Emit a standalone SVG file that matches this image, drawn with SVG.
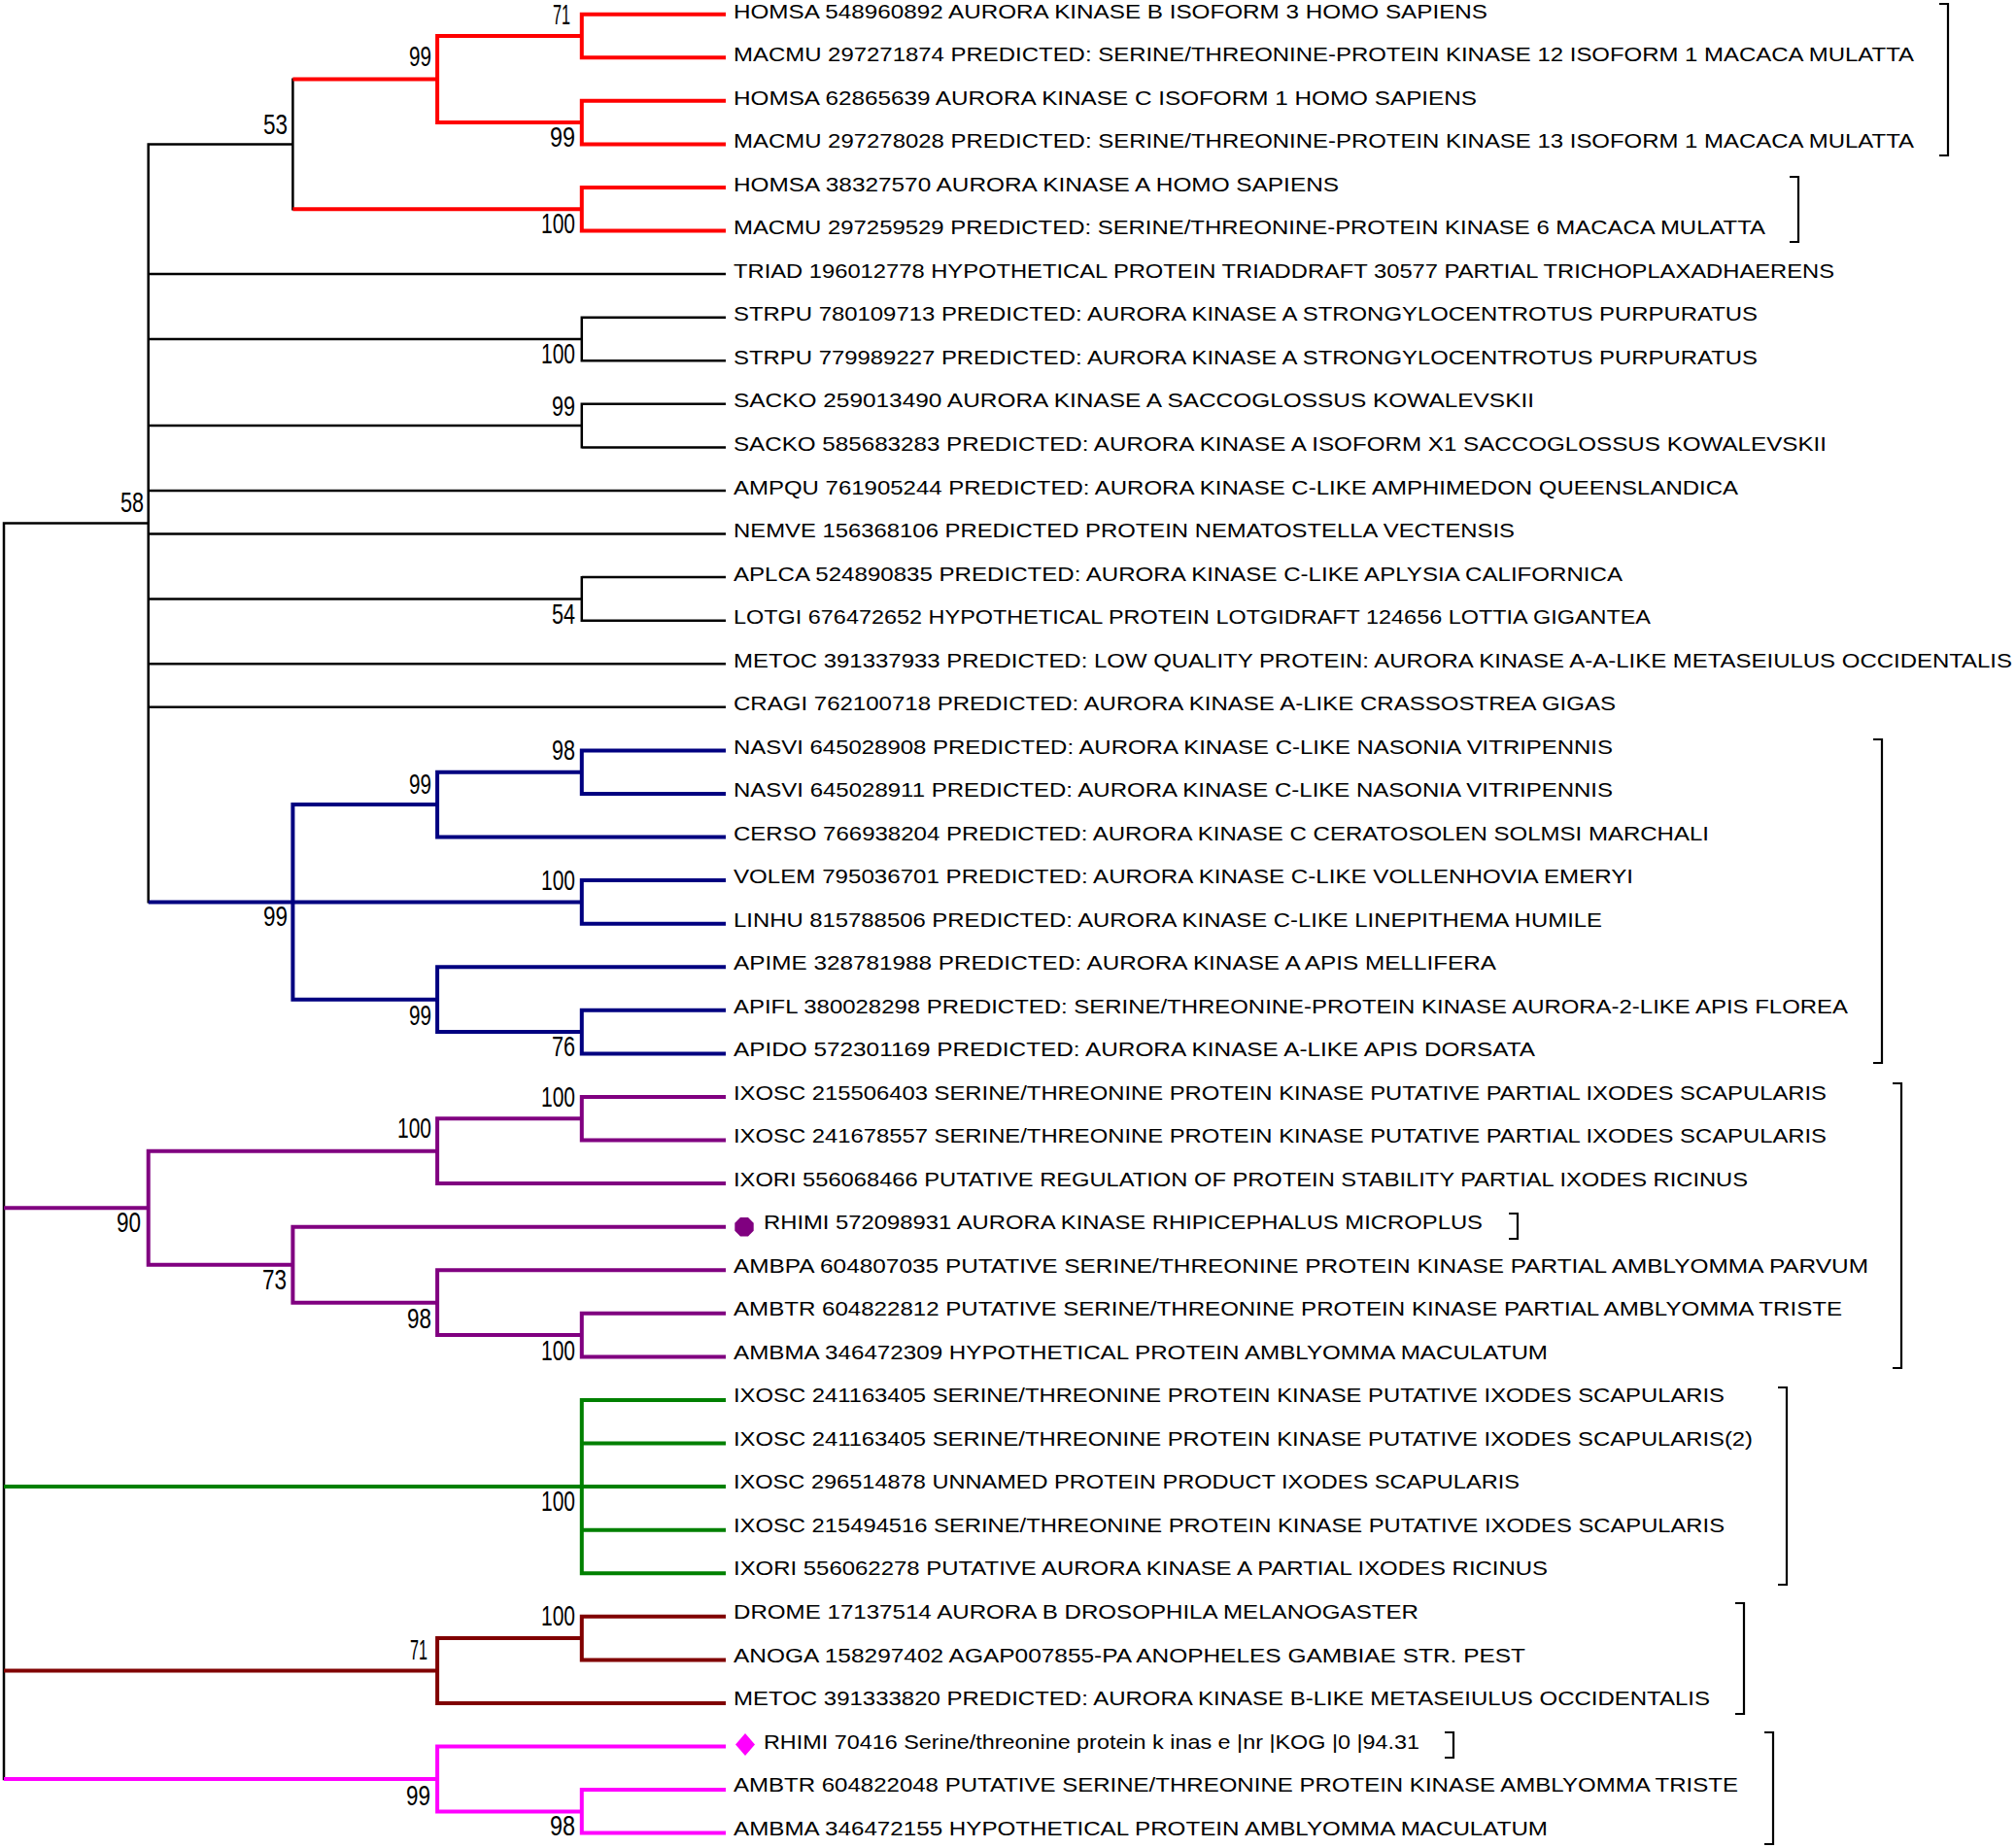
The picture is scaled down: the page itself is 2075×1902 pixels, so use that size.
<svg xmlns="http://www.w3.org/2000/svg" width="2075" height="1902" viewBox="0 0 2075 1902">
<style>
.lbl{font-family:"Liberation Sans",Arial,sans-serif;font-size:21px;fill:#000}
.bs{font-family:"Liberation Sans",Arial,sans-serif;font-size:30px;fill:#000}
.k{stroke:#000;stroke-width:2.5;fill:none}
.r{stroke:#FF0000;stroke-width:4;fill:none}
.b{stroke:#000080;stroke-width:4;fill:none}
.p{stroke:#800080;stroke-width:4;fill:none}
.g{stroke:#008000;stroke-width:4;fill:none}
.m{stroke:#800000;stroke-width:4;fill:none}
.pk{stroke:#FF00FF;stroke-width:4;fill:none}
.br{stroke:#000;stroke-width:2.2;fill:none}
</style>
<rect width="2075" height="1902" fill="#fff"/>
<g id="connectors">
<path class="k" d="M4 537.2V1832.2M4 538.4H152.7M152.7 147.2V929.6M152.7 148.4H301.4M301.4 80.4V216.5M152.7 282.1H747M152.7 349H598.8M598.8 325.5V372.5M598.8 326.7H747M598.8 371.3H747M152.7 438.1H598.8M598.8 414.6V461.6M598.8 415.8H747M598.8 460.4H747M152.7 505H747M152.7 549.5H747M152.7 616.4H598.8M598.8 592.9V639.9M598.8 594.1H747M598.8 638.7H747M152.7 683.3H747M152.7 727.8H747"/>
<path class="r" d="M301.4 81.6H450.1M450.1 35V128.1M450.1 37H598.8M598.8 12.7V61.3M598.8 14.7H747M598.8 59.3H747M450.1 126.1H598.8M598.8 101.8V150.4M598.8 103.8H747M598.8 148.4H747M301.4 215.3H598.8M598.8 191V239.6M598.8 193H747M598.8 237.6H747"/>
<path class="b" d="M152.7 928.4H598.8M301.4 826.1V1030.7M301.4 828.1H450.1M450.1 792.7V863.5M450.1 794.7H598.8M598.8 770.4V819M598.8 772.4H747M598.8 817H747M450.1 861.5H747M598.8 904.1V952.7M598.8 906.1H747M598.8 950.7H747M301.4 1028.7H450.1M450.1 993.2V1064.1M450.1 995.2H747M450.1 1062.1H598.8M598.8 1037.8V1086.4M598.8 1039.8H747M598.8 1084.4H747"/>
<path class="p" d="M4 1243.2H152.7M152.7 1182.7V1303.7M152.7 1184.7H450.1M450.1 1149.2V1220.1M450.1 1151.2H598.8M598.8 1127V1175.5M598.8 1129H747M598.8 1173.5H747M450.1 1218.1H747M152.7 1301.7H301.4M301.4 1260.7V1342.7M301.4 1262.7H747M301.4 1340.7H450.1M450.1 1305.2V1376.1M450.1 1307.2H747M450.1 1374.1H598.8M598.8 1349.8V1398.4M598.8 1351.8H747M598.8 1396.4H747"/>
<path class="g" d="M4 1530.1H747M598.8 1438.9V1621.2M598.8 1440.9H747M598.8 1485.5H747M598.8 1574.7H747M598.8 1619.2H747"/>
<path class="m" d="M4 1719.5H450.1M450.1 1684.1V1754.9M450.1 1686.1H598.8M598.8 1661.8V1710.4M598.8 1663.8H747M598.8 1708.4H747M450.1 1752.9H747"/>
<path class="pk" d="M4 1831H450.1M450.1 1795.5V1866.4M450.1 1797.5H747M450.1 1864.4H598.8M598.8 1840.1V1888.6M598.8 1842.1H747M598.8 1886.6H747"/>
</g>
<g id="brackets">
<path class="br" d="M1996 4H2005V160H1996"/>
<path class="br" d="M1842 182H1851V249H1842"/>
<path class="br" d="M1928 761H1937V1094H1928"/>
<path class="br" d="M1948 1115H1957V1408H1948"/>
<path class="br" d="M1553 1249H1562V1275H1553"/>
<path class="br" d="M1830 1428H1839V1631H1830"/>
<path class="br" d="M1786 1650H1795V1764H1786"/>
<path class="br" d="M1487 1783H1496V1809H1487"/>
<path class="br" d="M1816 1783H1825V1898H1816"/>
</g>
<g id="bootstrap">
<g id="n71a"><text class="bs" x="569" y="25" textLength="18" lengthAdjust="spacingAndGlyphs">71</text></g>
<g id="n99a"><text class="bs" x="421" y="68" textLength="23" lengthAdjust="spacingAndGlyphs">99</text></g>
<g id="n53"><text class="bs" x="271" y="138" textLength="25" lengthAdjust="spacingAndGlyphs">53</text></g>
<g id="n99b"><text class="bs" x="566" y="151" textLength="26" lengthAdjust="spacingAndGlyphs">99</text></g>
<g id="n100a"><text class="bs" x="557" y="240" textLength="35" lengthAdjust="spacingAndGlyphs">100</text></g>
<g id="n100strpu"><text class="bs" x="557" y="374" textLength="35" lengthAdjust="spacingAndGlyphs">100</text></g>
<g id="n99sacko"><text class="bs" x="568" y="428" textLength="24" lengthAdjust="spacingAndGlyphs">99</text></g>
<g id="n58"><text class="bs" x="124" y="527" textLength="24" lengthAdjust="spacingAndGlyphs">58</text></g>
<g id="n54"><text class="bs" x="568" y="642" textLength="24" lengthAdjust="spacingAndGlyphs">54</text></g>
<g id="n98nasvi"><text class="bs" x="568" y="782" textLength="24" lengthAdjust="spacingAndGlyphs">98</text></g>
<g id="n99c"><text class="bs" x="421" y="817" textLength="23" lengthAdjust="spacingAndGlyphs">99</text></g>
<g id="n100b"><text class="bs" x="557" y="916" textLength="35" lengthAdjust="spacingAndGlyphs">100</text></g>
<g id="n99blue"><text class="bs" x="271" y="953" textLength="25" lengthAdjust="spacingAndGlyphs">99</text></g>
<g id="n99d"><text class="bs" x="421" y="1055" textLength="23" lengthAdjust="spacingAndGlyphs">99</text></g>
<g id="n76"><text class="bs" x="568" y="1087" textLength="24" lengthAdjust="spacingAndGlyphs">76</text></g>
<g id="n100c"><text class="bs" x="557" y="1139" textLength="35" lengthAdjust="spacingAndGlyphs">100</text></g>
<g id="n100d"><text class="bs" x="409" y="1171" textLength="35" lengthAdjust="spacingAndGlyphs">100</text></g>
<g id="n90"><text class="bs" x="120" y="1268" textLength="25" lengthAdjust="spacingAndGlyphs">90</text></g>
<g id="n73"><text class="bs" x="270" y="1327" textLength="25" lengthAdjust="spacingAndGlyphs">73</text></g>
<g id="n98b"><text class="bs" x="419" y="1367" textLength="25" lengthAdjust="spacingAndGlyphs">98</text></g>
<g id="n100e"><text class="bs" x="557" y="1400" textLength="35" lengthAdjust="spacingAndGlyphs">100</text></g>
<g id="n100g"><text class="bs" x="557" y="1555" textLength="35" lengthAdjust="spacingAndGlyphs">100</text></g>
<g id="n100h"><text class="bs" x="557" y="1673" textLength="35" lengthAdjust="spacingAndGlyphs">100</text></g>
<g id="n71b"><text class="bs" x="422" y="1708" textLength="18" lengthAdjust="spacingAndGlyphs">71</text></g>
<g id="n99e"><text class="bs" x="418" y="1858" textLength="25" lengthAdjust="spacingAndGlyphs">99</text></g>
<g id="n98c"><text class="bs" x="566" y="1889" textLength="26" lengthAdjust="spacingAndGlyphs">98</text></g>
</g>
<g id="leaves">
<g id="leaf0"><text class="lbl" x="755" y="18.7" textLength="776" lengthAdjust="spacingAndGlyphs">HOMSA 548960892 AURORA KINASE B ISOFORM 3 HOMO SAPIENS</text></g>
<g id="leaf1"><text class="lbl" x="755" y="63.2" textLength="1215" lengthAdjust="spacingAndGlyphs">MACMU 297271874 PREDICTED: SERINE/THREONINE-PROTEIN KINASE 12 ISOFORM 1 MACACA MULATTA</text></g>
<g id="leaf2"><text class="lbl" x="755" y="107.8" textLength="765" lengthAdjust="spacingAndGlyphs">HOMSA 62865639 AURORA KINASE C ISOFORM 1 HOMO SAPIENS</text></g>
<g id="leaf3"><text class="lbl" x="755" y="152.3" textLength="1215" lengthAdjust="spacingAndGlyphs">MACMU 297278028 PREDICTED: SERINE/THREONINE-PROTEIN KINASE 13 ISOFORM 1 MACACA MULATTA</text></g>
<g id="leaf4"><text class="lbl" x="755" y="196.8" textLength="623" lengthAdjust="spacingAndGlyphs">HOMSA 38327570 AURORA KINASE A HOMO SAPIENS</text></g>
<g id="leaf5"><text class="lbl" x="755" y="241.3" textLength="1062" lengthAdjust="spacingAndGlyphs">MACMU 297259529 PREDICTED: SERINE/THREONINE-PROTEIN KINASE 6 MACACA MULATTA</text></g>
<g id="leaf6"><text class="lbl" x="755" y="285.9" textLength="1133" lengthAdjust="spacingAndGlyphs">TRIAD 196012778 HYPOTHETICAL PROTEIN TRIADDRAFT 30577 PARTIAL TRICHOPLAXADHAERENS</text></g>
<g id="leaf7"><text class="lbl" x="755" y="330.4" textLength="1054" lengthAdjust="spacingAndGlyphs">STRPU 780109713 PREDICTED: AURORA KINASE A STRONGYLOCENTROTUS PURPURATUS</text></g>
<g id="leaf8"><text class="lbl" x="755" y="374.9" textLength="1054" lengthAdjust="spacingAndGlyphs">STRPU 779989227 PREDICTED: AURORA KINASE A STRONGYLOCENTROTUS PURPURATUS</text></g>
<g id="leaf9"><text class="lbl" x="755" y="419.4" textLength="824" lengthAdjust="spacingAndGlyphs">SACKO 259013490 AURORA KINASE A SACCOGLOSSUS KOWALEVSKII</text></g>
<g id="leaf10"><text class="lbl" x="755" y="464" textLength="1125" lengthAdjust="spacingAndGlyphs">SACKO 585683283 PREDICTED: AURORA KINASE A ISOFORM X1 SACCOGLOSSUS KOWALEVSKII</text></g>
<g id="leaf11"><text class="lbl" x="755" y="508.5" textLength="1034" lengthAdjust="spacingAndGlyphs">AMPQU 761905244 PREDICTED: AURORA KINASE C-LIKE AMPHIMEDON QUEENSLANDICA</text></g>
<g id="leaf12"><text class="lbl" x="755" y="553" textLength="804" lengthAdjust="spacingAndGlyphs">NEMVE 156368106 PREDICTED PROTEIN NEMATOSTELLA VECTENSIS</text></g>
<g id="leaf13"><text class="lbl" x="755" y="597.5" textLength="915" lengthAdjust="spacingAndGlyphs">APLCA 524890835 PREDICTED: AURORA KINASE C-LIKE APLYSIA CALIFORNICA</text></g>
<g id="leaf14"><text class="lbl" x="755" y="642" textLength="944" lengthAdjust="spacingAndGlyphs">LOTGI 676472652 HYPOTHETICAL PROTEIN LOTGIDRAFT 124656 LOTTIA GIGANTEA</text></g>
<g id="leaf15"><text class="lbl" x="755" y="686.5" textLength="1316" lengthAdjust="spacingAndGlyphs">METOC 391337933 PREDICTED: LOW QUALITY PROTEIN: AURORA KINASE A-A-LIKE METASEIULUS OCCIDENTALIS</text></g>
<g id="leaf16"><text class="lbl" x="755" y="731" textLength="908" lengthAdjust="spacingAndGlyphs">CRAGI 762100718 PREDICTED: AURORA KINASE A-LIKE CRASSOSTREA GIGAS</text></g>
<g id="leaf17"><text class="lbl" x="755" y="775.5" textLength="905" lengthAdjust="spacingAndGlyphs">NASVI 645028908 PREDICTED: AURORA KINASE C-LIKE NASONIA VITRIPENNIS</text></g>
<g id="leaf18"><text class="lbl" x="755" y="820" textLength="905" lengthAdjust="spacingAndGlyphs">NASVI 645028911 PREDICTED: AURORA KINASE C-LIKE NASONIA VITRIPENNIS</text></g>
<g id="leaf19"><text class="lbl" x="755" y="864.5" textLength="1004" lengthAdjust="spacingAndGlyphs">CERSO 766938204 PREDICTED: AURORA KINASE C CERATOSOLEN SOLMSI MARCHALI</text></g>
<g id="leaf20"><text class="lbl" x="755" y="909" textLength="926" lengthAdjust="spacingAndGlyphs">VOLEM 795036701 PREDICTED: AURORA KINASE C-LIKE VOLLENHOVIA EMERYI</text></g>
<g id="leaf21"><text class="lbl" x="755" y="953.5" textLength="894" lengthAdjust="spacingAndGlyphs">LINHU 815788506 PREDICTED: AURORA KINASE C-LIKE LINEPITHEMA HUMILE</text></g>
<g id="leaf22"><text class="lbl" x="755" y="998.1" textLength="785" lengthAdjust="spacingAndGlyphs">APIME 328781988 PREDICTED: AURORA KINASE A APIS MELLIFERA</text></g>
<g id="leaf23"><text class="lbl" x="755" y="1042.6" textLength="1147" lengthAdjust="spacingAndGlyphs">APIFL 380028298 PREDICTED: SERINE/THREONINE-PROTEIN KINASE AURORA-2-LIKE APIS FLOREA</text></g>
<g id="leaf24"><text class="lbl" x="755" y="1087.1" textLength="825" lengthAdjust="spacingAndGlyphs">APIDO 572301169 PREDICTED: AURORA KINASE A-LIKE APIS DORSATA</text></g>
<g id="leaf25"><text class="lbl" x="755" y="1131.6" textLength="1125" lengthAdjust="spacingAndGlyphs">IXOSC 215506403 SERINE/THREONINE PROTEIN KINASE PUTATIVE PARTIAL IXODES SCAPULARIS</text></g>
<g id="leaf26"><text class="lbl" x="755" y="1176.2" textLength="1125" lengthAdjust="spacingAndGlyphs">IXOSC 241678557 SERINE/THREONINE PROTEIN KINASE PUTATIVE PARTIAL IXODES SCAPULARIS</text></g>
<g id="leaf27"><text class="lbl" x="755" y="1220.7" textLength="1044" lengthAdjust="spacingAndGlyphs">IXORI 556068466 PUTATIVE REGULATION OF PROTEIN STABILITY PARTIAL IXODES RICINUS</text></g>
<g id="leaf28"><polygon points="770,1253 775.7,1258.7 775.7,1266.7 770,1272.4 762,1272.4 756.3,1266.7 756.3,1258.7 762,1253" fill="#800080"/><text class="lbl" x="786" y="1265.2" textLength="740" lengthAdjust="spacingAndGlyphs">RHIMI 572098931 AURORA KINASE RHIPICEPHALUS MICROPLUS</text></g>
<g id="leaf29"><text class="lbl" x="755" y="1309.7" textLength="1168" lengthAdjust="spacingAndGlyphs">AMBPA 604807035 PUTATIVE SERINE/THREONINE PROTEIN KINASE PARTIAL AMBLYOMMA PARVUM</text></g>
<g id="leaf30"><text class="lbl" x="755" y="1354.3" textLength="1141" lengthAdjust="spacingAndGlyphs">AMBTR 604822812 PUTATIVE SERINE/THREONINE PROTEIN KINASE PARTIAL AMBLYOMMA TRISTE</text></g>
<g id="leaf31"><text class="lbl" x="755" y="1398.8" textLength="838" lengthAdjust="spacingAndGlyphs">AMBMA 346472309 HYPOTHETICAL PROTEIN AMBLYOMMA MACULATUM</text></g>
<g id="leaf32"><text class="lbl" x="755" y="1443.3" textLength="1020" lengthAdjust="spacingAndGlyphs">IXOSC 241163405 SERINE/THREONINE PROTEIN KINASE PUTATIVE IXODES SCAPULARIS</text></g>
<g id="leaf33"><text class="lbl" x="755" y="1487.8" textLength="1049" lengthAdjust="spacingAndGlyphs">IXOSC 241163405 SERINE/THREONINE PROTEIN KINASE PUTATIVE IXODES SCAPULARIS(2)</text></g>
<g id="leaf34"><text class="lbl" x="755" y="1532.4" textLength="809" lengthAdjust="spacingAndGlyphs">IXOSC 296514878 UNNAMED PROTEIN PRODUCT IXODES SCAPULARIS</text></g>
<g id="leaf35"><text class="lbl" x="755" y="1576.9" textLength="1020" lengthAdjust="spacingAndGlyphs">IXOSC 215494516 SERINE/THREONINE PROTEIN KINASE PUTATIVE IXODES SCAPULARIS</text></g>
<g id="leaf36"><text class="lbl" x="755" y="1621.4" textLength="838" lengthAdjust="spacingAndGlyphs">IXORI 556062278 PUTATIVE AURORA KINASE A PARTIAL IXODES RICINUS</text></g>
<g id="leaf37"><text class="lbl" x="755" y="1665.9" textLength="705" lengthAdjust="spacingAndGlyphs">DROME 17137514 AURORA B DROSOPHILA MELANOGASTER</text></g>
<g id="leaf38"><text class="lbl" x="755" y="1710.5" textLength="815" lengthAdjust="spacingAndGlyphs">ANOGA 158297402 AGAP007855-PA ANOPHELES GAMBIAE STR. PEST</text></g>
<g id="leaf39"><text class="lbl" x="755" y="1755" textLength="1005" lengthAdjust="spacingAndGlyphs">METOC 391333820 PREDICTED: AURORA KINASE B-LIKE METASEIULUS OCCIDENTALIS</text></g>
<g id="leaf40"><polygon points="767,1784 777,1795.5 767,1807 757,1795.5" fill="#FF00FF"/><text class="lbl" x="786" y="1799.5" textLength="675" lengthAdjust="spacingAndGlyphs">RHIMI 70416 Serine/threonine protein k inas e |nr |KOG |0 |94.31</text></g>
<g id="leaf41"><text class="lbl" x="755" y="1844" textLength="1034" lengthAdjust="spacingAndGlyphs">AMBTR 604822048 PUTATIVE SERINE/THREONINE PROTEIN KINASE AMBLYOMMA TRISTE</text></g>
<g id="leaf42"><text class="lbl" x="755" y="1888.6" textLength="838" lengthAdjust="spacingAndGlyphs">AMBMA 346472155 HYPOTHETICAL PROTEIN AMBLYOMMA MACULATUM</text></g>
</g>
</svg>
